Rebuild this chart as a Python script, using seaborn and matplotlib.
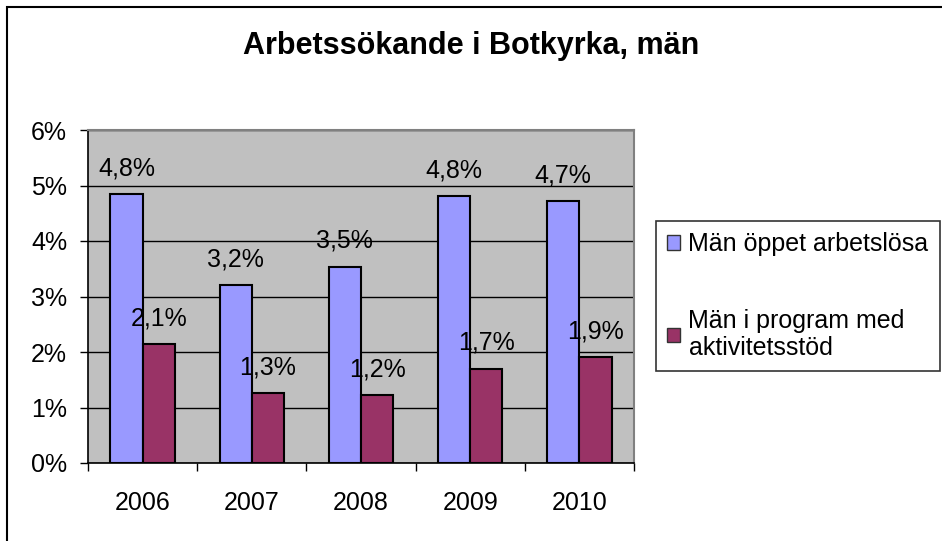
import numpy as np
import pandas as pd
import matplotlib
matplotlib.use("Agg")
import matplotlib.pyplot as plt
from matplotlib.patches import Patch, Rectangle
from matplotlib.ticker import FixedLocator
import seaborn as sns

# Data
years = ["2006", "2007", "2008", "2009", "2010"]
series_names = ["Män öppet arbetslösa", "Män i program med\naktivitetsstöd"]
oppet = [4.85, 3.20, 3.54, 4.81, 4.72]
program = [2.14, 1.26, 1.22, 1.70, 1.91]
oppet_labels = ["4,8%", "3,2%", "3,5%", "4,8%", "4,7%"]
program_labels = ["2,1%", "1,3%", "1,2%", "1,7%", "1,9%"]
y_ticks = [0, 1, 2, 3, 4, 5, 6]
colors = ["#9999FF", "#993366"]
title = "Arbetssökande i Botkyrka, män"

df = pd.DataFrame({
    "year": years * 2,
    "value": oppet + program,
    "series": [series_names[0]] * len(years) + [series_names[1]] * len(years),
})

sns.set_style("white")
plt.rcParams["font.family"] = ["Liberation Sans", "DejaVu Sans"]
plt.rcParams["text.color"] = "black"
plt.rcParams["xtick.color"] = "black"
plt.rcParams["ytick.color"] = "black"
plt.rcParams["axes.labelcolor"] = "black"

fig = plt.figure(figsize=(9.42, 5.41), dpi=100)
ax = fig.add_axes([88 / 942, 1 - 463 / 541, (634 - 88) / 942, (463 - 130) / 541])
ax.set_facecolor("#C0C0C0")

sns.barplot(data=df, x="year", y="value", hue="series", hue_order=series_names,
            palette=colors, saturation=1, edgecolor="black", linewidth=1.5,
            width=0.59, legend=False, ax=ax, zorder=3)

# data labels above bars
for cont, labels in zip(ax.containers, [oppet_labels, program_labels]):
    for bar, lab in zip(cont, labels):
        ax.annotate(lab, (bar.get_x() + bar.get_width() / 2, bar.get_height()),
                    xytext=(0, 18.5), textcoords="offset points",
                    ha="center", va="center", fontsize=18, color="black",
                    zorder=5)

ax.set_ylim(0, 6)
ax.set_xlim(-0.5, len(years) - 0.5)
ax.set_yticks(y_ticks)
ax.set_yticklabels([f"{t}%" for t in y_ticks])
ax.yaxis.grid(True, color="black", linewidth=1)
ax.set_axisbelow(True)
ax.set_xlabel("")
ax.set_ylabel("")

ax.xaxis.set_minor_locator(FixedLocator(np.arange(-0.5, len(years), 1.0)))
ax.tick_params(axis="x", which="major", length=0, pad=20, labelsize=18,
               labelcolor="black")
ax.tick_params(axis="x", which="minor", length=5.5, width=1, color="black",
               direction="out", bottom=True)
ax.tick_params(axis="y", length=6, width=1, color="black", direction="out",
               left=True, pad=9, labelsize=18, labelcolor="black")

for side in ["left", "bottom"]:
    ax.spines[side].set_color("black")
    ax.spines[side].set_linewidth(1.2)
for side in ["top", "right"]:
    ax.spines[side].set_color("#808080")
    ax.spines[side].set_linewidth(1.5)

fig.text(471 / 942, 1 - 46 / 541, title, ha="center", va="center",
         fontsize=22, fontweight="bold", color="black")

handles = [Patch(facecolor=c, edgecolor="#333333", linewidth=1) for c in colors]
leg = fig.legend(handles=handles, labels=series_names, loc="upper left",
                 bbox_to_anchor=(656 / 942, 1 - 221 / 541), borderaxespad=0,
                 fontsize=18, frameon=True, fancybox=False, edgecolor="black",
                 handlelength=0.5, handleheight=0.5, handletextpad=0.35,
                 labelspacing=2.1, borderpad=0.45)
leg.get_frame().set_linewidth(1.2)
for t in leg.get_texts():
    t.set_linespacing(1.15)
    t.set_color("black")

# outer chart border
fig.patches.append(Rectangle((7 / 942, -0.2), 1.2, 1 - 7 / 541 + 0.2,
                             transform=fig.transFigure, fill=False,
                             edgecolor="black", linewidth=1.5))

fig.savefig("out.png", dpi=100)
